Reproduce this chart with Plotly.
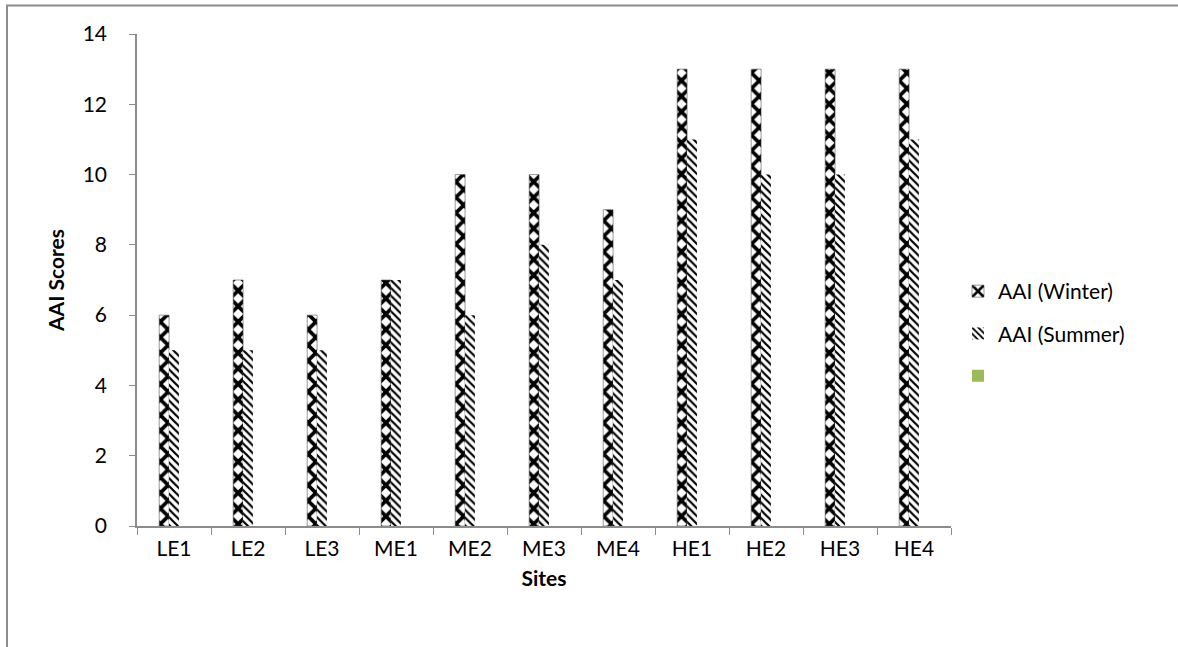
import plotly.graph_objects as go

sites = ["LE1", "LE2", "LE3", "ME1", "ME2", "ME3", "ME4", "HE1", "HE2", "HE3", "HE4"]
winter = [6, 7, 6, 7, 10, 10, 9, 13, 13, 13, 13]
summer = [5, 5, 5, 7, 6, 8, 7, 11, 10, 10, 11]
y_ticks = [0, 2, 4, 6, 8, 10, 12, 14]

FONT = "Lato, Open Sans, sans-serif"

fig = go.Figure()
fig.add_trace(go.Bar(
    x=sites, y=winter, name="AAI (Winter)", legendgroup="w",
    marker=dict(color="white", line=dict(width=0.6, color="#555555"),
                pattern=dict(shape="x", fgcolor="black", bgcolor="white",
                             fgopacity=1, size=11, solidity=0.55)),
))
fig.add_trace(go.Bar(
    x=sites, y=summer, name="AAI (Summer)", legendgroup="s",
    marker=dict(color="white", line=dict(width=0),
                pattern=dict(shape="\\", fgcolor="black", bgcolor="white",
                             fgopacity=1, size=5.5, solidity=0.4)),
))
fig.add_trace(go.Bar(
    x=sites, y=[None] * len(sites), name=" ", legendgroup="g",
    marker=dict(color="#9BBB59", line=dict(width=0)),
))

L, R, T, B = 137, 1178 - 951, 34, 647 - 526
pw, ph = 951 - 137, 526 - 34

fig.update_layout(
    width=1178, height=647,
    margin=dict(l=L, r=R, t=T, b=B),
    paper_bgcolor="white", plot_bgcolor="white",
    barmode="group", bargap=0.6, bargroupgap=0,
    font=dict(family=FONT, size=21, color="black"),
    showlegend=True,
    legend=dict(x=(958 - 137) / pw, xanchor="left", y=(526 - 271) / ph, yanchor="top",
                traceorder="grouped", tracegroupgap=12,
                font=dict(size=21), bgcolor="rgba(0,0,0,0)"),
    shapes=[dict(type="rect", xref="paper", yref="paper",
                 x0=(7 - 137) / pw, x1=(1250 - 137) / pw,
                 y0=-(700 - 526) / ph, y1=1 + (34 - 5.5) / ph,
                 line=dict(color="#8c8c8c", width=2), fillcolor="rgba(0,0,0,0)", layer="below")],
)
fig.update_xaxes(
    title=dict(text="<b>Sites</b>", font=dict(size=21), standoff=12),
    showline=True, linecolor="#8c8c8c", linewidth=1.5,
    ticks="outside", ticklen=7, tickcolor="#8c8c8c", tickson="boundaries",
    showgrid=False, tickfont=dict(size=21), ticklabelstandoff=3,
)
fig.update_yaxes(
    title=dict(text="<b>AAI Scores</b>", font=dict(size=21), standoff=12),
    range=[0, 14], tickvals=y_ticks,
    showline=True, linecolor="#8c8c8c", linewidth=1.5,
    ticks="outside", ticklen=6, tickcolor="#8c8c8c",
    showgrid=False, zeroline=False, tickfont=dict(size=21), ticklabelstandoff=18,
)

fig.write_html("out.html")
